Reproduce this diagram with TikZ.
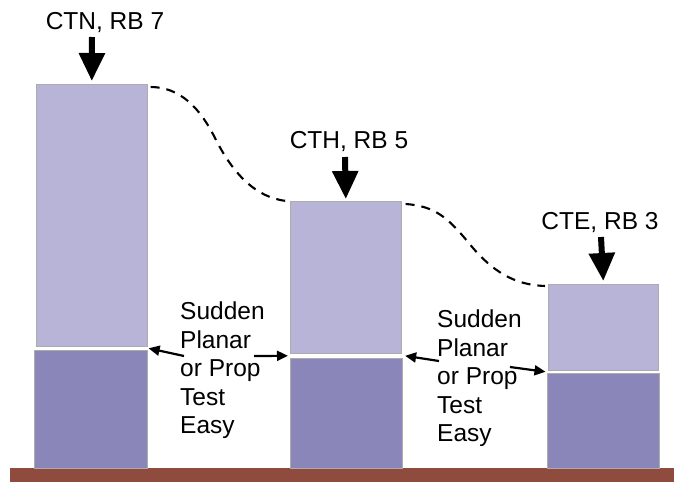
\documentclass[tikz,border=0pt]{standalone}
\usepackage{fontspec}
\setmainfont{Liberation Sans}
\usetikzlibrary{arrows.meta,calc}
\definecolor{upc}{RGB}{183,180,216}
\definecolor{loc}{RGB}{138,134,186}
\definecolor{grd}{RGB}{143,76,62}
\begin{document}
\begin{tikzpicture}[x=1pt,y=-1pt,
  boxbase/.style={draw=gray!65, line width=0.6pt, inner sep=0pt, anchor=north west},
  upperbox/.style={boxbase, fill=upc},
  lowerbox/.style={boxbase, fill=loc},
  lbl/.style={font=\fontsize{24.5}{28}\selectfont, inner sep=0pt, anchor=base},
  desc/.style={font=\fontsize{24.5}{28.5}\selectfont, align=left, inner sep=0pt, anchor=north west},
  bigarrow/.style={line width=6pt, -{Triangle[width=25pt,length=28pt]}},
  smallarrow/.style={line width=2.2pt, -{Triangle[width=10pt,length=11pt]}},
  dashcurve/.style={dash pattern=on 9pt off 7pt, line width=2.1pt}]
\useasboundingbox (0,0) rectangle (674,482);
% ground
\fill[grd] (10,468) rectangle (674,482);
% boxes
\node[upperbox, minimum width=111pt, minimum height=262pt] (u1) at (36,84) {};
\node[lowerbox, minimum width=113pt, minimum height=118pt] (d1) at (34,350) {};
\node[upperbox, minimum width=111pt, minimum height=152pt] (u2) at (290,201) {};
\node[lowerbox, minimum width=112pt, minimum height=110pt] (d2) at (290,358) {};
\node[upperbox, minimum width=110pt, minimum height=86pt] (u3) at (548,284) {};
\node[lowerbox, minimum width=112pt, minimum height=95pt] (d3) at (547,373) {};
% labels
\node[lbl] (l1) at (105,29) {CTN, RB 7};
\node[lbl] (l2) at (349,148) {CTH, RB 5};
\node[lbl] (l3) at (600,229) {CTE, RB 3};
\coordinate (a1) at (92,37);
\coordinate (a2) at (345,157);
\coordinate (a3) at (601,237);
\draw[bigarrow] (a1) -- ([yshift=3pt]u1.north);
\draw[bigarrow] (a2) -- ([yshift=2pt]u2.north);
\draw[bigarrow] (a3) -- ([yshift=3pt]u3.north);
% dashed curves
\draw[dashcurve] ([xshift=3pt,yshift=-3pt]u1.north east) .. controls (180,87) and (200,108) .. (215,138)
  .. controls (232,172) and (255,198) .. ([xshift=-3pt]u2.north west);
\draw[dashcurve] ([xshift=4pt,yshift=-3pt]u2.north east) .. controls (435,206) and (448,218) .. (468,242)
  .. controls (492,272) and (515,285) .. ([xshift=-3pt,yshift=-2pt]u3.north west);
% descriptions
\node[desc] (t1) at (180,302) {Sudden\\Planar\\or Prop\\Test\\Easy};
\node[desc] (t2) at (437,310) {Sudden\\Planar\\or Prop\\Test\\Easy};
\coordinate (s1) at (184,356);
\coordinate (s2) at (254,356);
\coordinate (s3) at (439,361);
\coordinate (s4) at (510,367);
\draw[smallarrow] (s1) -- ($(u1.south east)!0.5!(d1.north east)+(1,0)$);
\draw[smallarrow] (s2) -- ($(u2.south west)!0.5!(d2.north west)+(-2,0)$);
\draw[smallarrow] (s3) -- ($(u2.south east)!0.5!(d2.north east)+(3,0)$);
\draw[smallarrow] (s4) -- ($(u3.south west)!0.5!(d3.north west)+(-2,0)$);
\end{tikzpicture}
\end{document}
